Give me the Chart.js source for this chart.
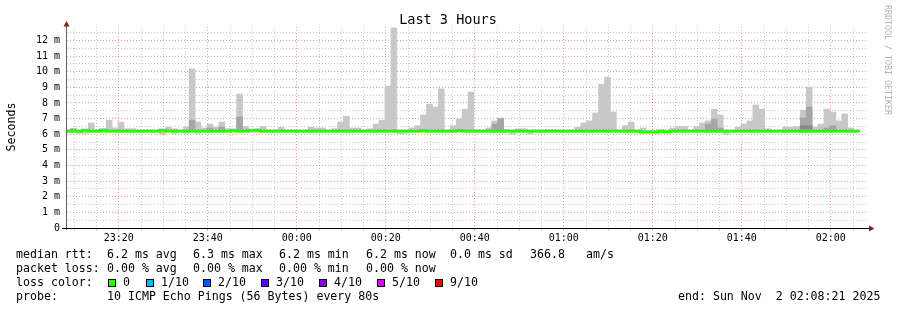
<!DOCTYPE html>
<html>
<head>
<meta charset="utf-8">
<script src="https://cdn.jsdelivr.net/npm/chart.js@4.4.1/dist/chart.umd.min.js"></script>
<style>
  html, body { margin: 0; padding: 0; background: #fff; }
</style>
</head>
<body>
<canvas id="smoke" width="897" height="310"></canvas>
<script>
// time frame (minutes), one rrd bin every 80 s
const endTime = '02:08:21';
const spanMinutes = 180;
const stepMinutes = 80 / 60;
const firstBinOffset = -0.55;   // start of first bin, relative to the left edge

const xTickLabels = ['23:20', '23:40', '00:00', '00:20', '00:40', '01:00', '01:20', '01:40', '02:00'];
const yMax = 12.86;

const _ = null;

// smoke (ms): full range of the 10 pings
const smokeMax = [
  6.25, 6.35, 6.25, 6.25, 6.72, 6.25, 6.35, 6.9, 6.4, 6.78,
  6.35, 6.35, 6.25, 6.25, 6.25, 6.25, 6.25, 6.45, 6.35, 6.25,
  6.45, 10.17, 6.78, 6.4, 6.65, 6.45, 6.78, 6.35, 6.25, 8.57,
  6.5, 6.25, 6.35, 6.5, 6.25, 6.25, 6.45, 6.25, 6.25, 6.25,
  6.25, 6.45, 6.4, 6.4, 6.25, 6.35, 6.78, 7.15, 6.4, 6.4,
  6.25, 6.35, 6.65, 6.9, 9.08, 12.8, 6.25, 6.25, 6.4, 6.55,
  7.23, 7.93, 7.74, 8.9, 6.25, 6.55, 6.97, 7.6, 8.7, 6.3,
  6.25, 6.4, 6.85, 7.04, 6.3, 6.25, 6.35, 6.35, 6.25, 6.25,
  6.25, 6.3, 6.3, 6.25, 6.25, 6.25, 6.45, 6.72, 6.85, 7.36,
  9.2, 9.65, 7.42, 6.25, 6.55, 6.78, 6.25, 6.4, 6.25, 6.25,
  6.25, 6.25, 6.4, 6.5, 6.5, 6.25, 6.5, 6.72, 6.85, 7.6,
  7.23, 6.25, 6.25, 6.45, 6.65, 6.85, 7.87, 7.6, 6.35, 6.25,
  6.25, 6.45, 6.45, 6.5, 7.54, 9.02, 6.45, 6.65, 7.6, 7.42,
  6.85, 7.3, 6.4, 6.25
];
const smokeMin = [
  6.12, 6.12, 6.05, 6.05, 6.12, 6.12, 6.12, 6.12, 6.12, 6.12,
  6.12, 6.12, 6.12, 6.12, 6.12, 6.12, 6.0, 6.12, 6.05, 6.12,
  6.05, 6.12, 6.05, 6.12, 6.12, 6.12, 6.12, 6.12, 6.12, 6.12,
  6.12, 6.12, 6.12, 6.12, 6.12, 6.12, 6.12, 6.12, 6.12, 6.12,
  6.12, 6.08, 6.12, 6.12, 6.12, 6.12, 6.12, 6.12, 6.12, 6.12,
  6.12, 6.12, 6.12, 6.12, 6.12, 6.12, 6.04, 6.06, 6.12, 6.12,
  6.12, 6.12, 6.12, 6.12, 6.12, 6.12, 6.12, 6.12, 6.12, 6.12,
  6.12, 6.12, 6.12, 6.12, 6.12, 6.0, 6.12, 6.12, 6.02, 6.12,
  6.08, 6.12, 6.12, 6.12, 6.12, 6.12, 6.12, 6.12, 6.12, 6.12,
  6.12, 6.12, 6.12, 6.12, 6.12, 6.12, 6.12, 6.12, 6.12, 6.12,
  6.12, 6.12, 6.12, 6.12, 6.12, 6.12, 6.12, 6.12, 6.12, 6.12,
  6.12, 6.0, 6.12, 6.12, 6.12, 6.12, 6.12, 6.12, 6.12, 6.12,
  6.12, 6.08, 6.12, 6.12, 6.12, 6.12, 6.12, 6.12, 6.12, 6.12,
  6.12, 6.12, 6.12, 6.12
];
// inner (darker) smoke tops
const smokeMid = [
  _, 6.35, _, _, _, _, _, _, _, _,
  _, _, _, _, _, _, _, _, _, _,
  _, 6.9, _, _, 6.4, _, 6.45, _, _, 7.1,
  _, _, _, _, _, _, _, _, _, _,
  _, _, _, _, _, _, _, _, _, _,
  _, _, _, _, _, _, _, _, _, _,
  _, _, _, _, _, _, _, _, _, _,
  _, _, 6.65, 7.0, _, _, _, _, _, _,
  _, _, _, _, _, _, _, _, _, _,
  _, _, _, _, _, _, _, _, _, _,
  _, _, _, _, _, _, _, _, 6.65, 6.97,
  6.4, _, _, _, _, _, _, _, _, _,
  _, _, _, _, 7.04, 7.74, _, _, 6.4, 6.55,
  _, _, _, _
];
const smokeCore = [
  _, _, _, _, _, _, _, _, _, _,
  _, _, _, _, _, _, _, _, _, _,
  _, _, _, _, _, _, _, _, _, _,
  _, _, _, _, _, _, _, _, _, _,
  _, _, _, _, _, _, _, _, _, _,
  _, _, _, _, _, _, _, _, _, _,
  _, _, _, _, _, _, _, _, _, _,
  _, _, _, _, _, _, _, _, _, _,
  _, _, _, _, _, _, _, _, _, _,
  _, _, _, _, _, _, _, _, _, _,
  _, _, _, _, _, _, _, _, _, _,
  _, _, _, _, _, _, _, _, _, _,
  _, _, _, _, 6.55, 6.55, _, _, _, _,
  _, _, _, _
];
const medianRtt = [
  6.2, 6.2, 6.2, 6.2, 6.26, 6.2, 6.2, 6.26, 6.2, 6.2,
  6.2, 6.2, 6.2, 6.2, 6.2, 6.2, 6.2, 6.26, 6.2, 6.2,
  6.2, 6.2, 6.2, 6.2, 6.2, 6.2, 6.2, 6.2, 6.2, 6.26,
  6.2, 6.2, 6.25, 6.25, 6.2, 6.2, 6.2, 6.2, 6.2, 6.2,
  6.2, 6.2, 6.2, 6.2, 6.2, 6.2, 6.2, 6.2, 6.2, 6.2,
  6.2, 6.2, 6.2, 6.2, 6.2, 6.2, 6.2, 6.2, 6.2, 6.2,
  6.2, 6.24, 6.2, 6.2, 6.2, 6.2, 6.2, 6.24, 6.2, 6.2,
  6.2, 6.2, 6.2, 6.2, 6.2, 6.2, 6.2, 6.2, 6.2, 6.2,
  6.2, 6.2, 6.2, 6.2, 6.2, 6.2, 6.2, 6.2, 6.2, 6.2,
  6.2, 6.2, 6.2, 6.2, 6.2, 6.2, 6.2, 6.2, 6.15, 6.15,
  6.15, 6.2, 6.16, 6.2, 6.2, 6.2, 6.2, 6.2, 6.2, 6.2,
  6.2, 6.2, 6.2, 6.2, 6.2, 6.2, 6.2, 6.2, 6.2, 6.2,
  6.2, 6.2, 6.2, 6.2, 6.2, 6.2, 6.2, 6.2, 6.2, 6.2,
  6.2, 6.2, 6.2, 6.2
];

// legend
const rttStats = ['6.2', '6.3', '6.2', '6.2'];
const lossStats = ['0.00', '0.00', '0.00', '0.00'];
const statNames = ['avg', 'max', 'min', 'now'];
const rttSd = '0.0';
const amPerS = '366.8';
const lossLabels = ['0', '1/10', '2/10', '3/10', '4/10', '5/10', '9/10'];
const lossColors = ['#26ff00', '#00b8ff', '#0059ff', '#5e00ff', '#7e00ff', '#dd00ff', '#ff0000'];
const probeText = '10 ICMP Echo Pings (56 Bytes) every 80s';
const endText = 'end: Sun Nov  2 02:08:21 2025';

// ---- derived ----
const hm = s => { const p = s.split(':').map(Number); return p[0] * 60 + p[1] + (p[2] || 0) / 60; };
const startOfDay = (hm(endTime) - spanMinutes + 1440) % 1440;
const offsetOf = s => (hm(s) - startOfDay + 1440) % 1440;

const xTicks = [];
for (let m = Math.ceil(startOfDay / 5) * 5 - startOfDay; m <= spanMinutes; m += 5) {
  const lbl = xTickLabels.find(l => Math.abs(offsetOf(l) - m) < 0.01);
  xTicks.push({ value: m, major: !!lbl, label: lbl || '' });
}
const yTicks = [];
for (let v = 0; v < yMax; v += 0.5) yTicks.push({ value: v, major: v % 1 === 0 });

const binCenter = k => firstBinOffset + (k + 0.5) * stepMinutes;
const bars = (top, bottomArr, fixedBottom) => top.map((v, k) => ({
  x: binCenter(k),
  y: v == null ? null : [bottomArr ? bottomArr[k] : fixedBottom, v]
}));
const medianLine = medianRtt.map((v, k) => ({ x: firstBinOffset + k * stepMinutes, y: v }));
medianLine.push({ x: firstBinOffset + medianRtt.length * stepMinutes, y: medianRtt[medianRtt.length - 1] });

const MONO = '"DejaVu Sans Mono", monospace';
Chart.defaults.font.family = MONO;
Chart.defaults.color = '#000';

const majorGrid = 'rgba(255,0,0,0.4)';
const minorGrid = 'rgba(140,140,140,0.45)';

const rrdDecor = {
  id: 'rrdDecor',
  afterDraw(chart) {
    const ctx = chart.ctx;
    ctx.save();
    // axes
    ctx.lineWidth = 1;
    ctx.strokeStyle = '#666';
    ctx.beginPath(); ctx.moveTo(66.5, 24); ctx.lineTo(66.5, 230); ctx.stroke();
    ctx.strokeStyle = '#000';
    ctx.beginPath(); ctx.moveTo(62, 228.5); ctx.lineTo(870, 228.5); ctx.stroke();
    ctx.fillStyle = '#7f1f1f';
    ctx.beginPath(); ctx.moveTo(63.5, 26.5); ctx.lineTo(69.5, 26.5); ctx.lineTo(66.5, 21); ctx.closePath(); ctx.fill();
    ctx.beginPath(); ctx.moveTo(869, 225.5); ctx.lineTo(869, 231.5); ctx.lineTo(874.5, 228.5); ctx.closePath(); ctx.fill();

    // title
    ctx.fillStyle = '#000';
    ctx.textBaseline = 'alphabetic';
    ctx.font = '13.5px ' + MONO;
    ctx.textAlign = 'center';
    ctx.fillText('Last 3 Hours', 448, 24);

    // y title
    ctx.font = '11.6px ' + MONO;
    ctx.save();
    ctx.translate(14.5, 127);
    ctx.rotate(-Math.PI / 2);
    ctx.fillText('Seconds', 0, 0);
    ctx.restore();

    // watermark
    ctx.save();
    ctx.fillStyle = '#b4b4b4';
    ctx.font = '8.3px ' + MONO;
    ctx.textAlign = 'left';
    ctx.translate(885, 5);
    ctx.rotate(Math.PI / 2);
    ctx.fillText('RRDTOOL / TOBI OETIKER', 0, 0);
    ctx.restore();

    // legend
    ctx.textAlign = 'left';
    ctx.font = '11.6px ' + MONO;
    const cols = [107, 193, 279, 366];
    ctx.fillText('median rtt:', 16, 258);
    rttStats.forEach((s, i) => ctx.fillText(s + ' ms ' + statNames[i], cols[i], 258));
    ctx.fillText(rttSd + ' ms sd', 450, 258);
    ctx.fillText(amPerS, 530, 258);
    ctx.fillText('am/s', 586, 258);

    ctx.fillText('packet loss:', 16, 272);
    lossStats.forEach((s, i) => ctx.fillText(s + ' % ' + statNames[i], cols[i], 272));

    ctx.fillText('loss color:', 16, 286);
    const sw = [108, 146, 203, 261, 319, 377, 435];
    lossLabels.forEach((l, i) => {
      ctx.fillStyle = lossColors[i];
      ctx.fillRect(sw[i], 279, 8, 8);
      ctx.strokeStyle = '#000';
      ctx.strokeRect(sw[i] + 0.5, 279.5, 7, 7);
      ctx.fillStyle = '#000';
      ctx.fillText(l, sw[i] + 15, 286);
    });

    ctx.fillText('probe:', 16, 300);
    ctx.fillText(probeText, 107, 300);
    ctx.fillText(endText, 678, 300);
    ctx.restore();
  }
};

const barOpts = { type: 'bar', grouped: false, barPercentage: 1, categoryPercentage: 1, borderWidth: 0, clip: 0 };

new Chart(document.getElementById('smoke'), {
  data: {
    datasets: [
      { ...barOpts, label: 'median', type: 'line', data: medianLine, stepped: 'after',
        borderColor: lossColors[0], borderWidth: 3, pointRadius: 0, fill: false, order: 0 },
      { ...barOpts, label: 'core', data: bars(smokeCore, null, 6.15), backgroundColor: '#8a8a8a', order: 1 },
      { ...barOpts, label: 'inner', data: bars(smokeMid, null, 6.15), backgroundColor: '#a6a6a6', order: 2 },
      { ...barOpts, label: 'smoke', data: bars(smokeMax, smokeMin), backgroundColor: '#c8c8c8', order: 3 }
    ]
  },
  options: {
    responsive: false,
    animation: false,
    events: [],
    layout: { padding: { left: 0, right: 29, top: 27, bottom: 62 } },
    plugins: { legend: { display: false }, tooltip: { enabled: false } },
    scales: {
      x: {
        type: 'linear',
        offset: false,
        min: 0,
        max: spanMinutes,
        afterFit: s => { s.height = 20; },
        afterBuildTicks: s => { s.ticks = xTicks.map(t => ({ value: t.value, major: t.major })); },
        grid: {
          offset: false,
          color: c => (c.tick && c.tick.major) ? majorGrid : minorGrid,
          tickLength: 3
        },
        border: { display: false, dash: [1, 2] },
        ticks: {
          autoSkip: false, maxRotation: 0, padding: 1,
          font: { size: 10 },
          callback: (v, i) => xTicks[i] ? xTicks[i].label : ''
        }
      },
      y: {
        min: 0,
        max: yMax,
        afterFit: s => { s.width = 67; },
        afterBuildTicks: s => { s.ticks = yTicks.map(t => ({ value: t.value, major: t.major })); },
        grid: {
          color: c => {
            if (!c.tick || c.tick.value === 0) return 'rgba(0,0,0,0)';
            return c.tick.major ? majorGrid : minorGrid;
          },
          drawTicks: false,
          tickLength: 0
        },
        border: { display: false, dash: [1, 2] },
        ticks: {
          autoSkip: false, padding: 7,
          font: { size: 10 },
          callback: v => v % 1 !== 0 ? '' : (v === 0 ? '0' : v + ' m')
        }
      }
    }
  },
  plugins: [rrdDecor]
});
</script>
</body>
</html>
